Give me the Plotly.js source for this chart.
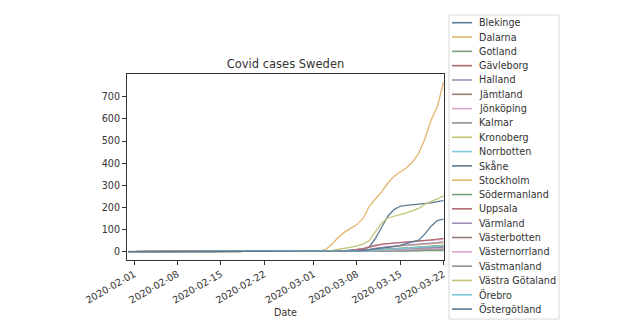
<!DOCTYPE html>
<html>
<head>
<meta charset="utf-8">
<script src="https://cdn.plot.ly/plotly-3.0.1.min.js"></script>
<style>html,body{margin:0;padding:0;background:#fff;}#chart{width:641px;height:333px;}</style>
</head>
<body>
<div id="chart"></div>
<script>
// Dates: 2020-01-31 .. 2020-03-22 (daily)
const dates = [
 "2020-01-31",
 "2020-02-01","2020-02-02","2020-02-03","2020-02-04","2020-02-05","2020-02-06","2020-02-07","2020-02-08","2020-02-09","2020-02-10",
 "2020-02-11","2020-02-12","2020-02-13","2020-02-14","2020-02-15","2020-02-16","2020-02-17","2020-02-18","2020-02-19","2020-02-20",
 "2020-02-21","2020-02-22","2020-02-23","2020-02-24","2020-02-25","2020-02-26","2020-02-27","2020-02-28","2020-02-29",
 "2020-03-01","2020-03-02","2020-03-03","2020-03-04","2020-03-05","2020-03-06","2020-03-07","2020-03-08","2020-03-09","2020-03-10",
 "2020-03-11","2020-03-12","2020-03-13","2020-03-14","2020-03-15","2020-03-16","2020-03-17","2020-03-18","2020-03-19","2020-03-20",
 "2020-03-21","2020-03-22"
];

// Jan 31 + February (30 values), then March 1..22 (22 values)
const blekinge       = [0,0,0,0,0,0,0,0,0,0, 0,0,0,0,0,0,0,0,0,0, 0,0,0,0,0,0,0,0,0,0,  0,0,0,0,0,0,0,0,0,0,1,1,2,2,3,3,4,4,5,5,6,7];
const dalarna        = [0,0,0,0,0,0,0,0,0,0, 0,0,0,0,0,0,0,0,0,0, 0,0,0,0,0,0,0,0,0,0,  0,0,0,0,1,2,3,4,6,10,14,18,21,24,26,28,30,32,34,36,38,40];
const gotland        = [0,0,0,0,0,0,0,0,0,0, 0,0,0,0,0,0,0,0,0,0, 0,0,0,0,0,0,0,0,0,0,  0,0,0,0,0,0,0,0,0,0,0,1,1,2,2,3,3,3,4,4,5,5];
const gavleborg      = [0,0,0,0,0,0,0,0,0,0, 0,0,0,0,0,0,0,0,0,0, 0,0,0,0,0,0,0,0,0,0,  0,0,0,0,0,0,1,2,3,4,5,6,7,8,10,11,12,14,15,17,18,20];
const halland        = [0,0,0,0,0,0,0,0,0,0, 0,0,0,0,0,0,0,0,0,0, 0,0,0,0,0,0,0,0,0,0,  0,0,0,0,1,2,3,4,6,10,15,20,22,25,27,30,32,34,36,38,41,45];
const jamtland       = [0,0,0,0,0,0,0,0,0,0, 0,0,0,0,0,0,0,0,0,0, 0,0,0,0,0,0,0,0,0,0,  0,0,0,0,0,0,0,1,1,2,3,4,5,6,7,8,9,10,11,12,13,14];
const jonkoping      = [1,1,1,1,1,1,1,1,1,1, 1,1,1,1,1,1,1,1,1,1, 1,1,1,1,1,1,1,1,1,1,  1,1,1,1,2,3,5,8,14,22,30,34,36,38,40,42,44,46,48,50,52,55];
const kalmar         = [0,0,0,0,0,0,0,0,0,0, 0,0,0,0,0,0,0,0,0,0, 0,0,0,0,0,0,0,0,0,0,  0,0,0,0,0,0,0,1,1,2,3,4,5,6,7,8,9,10,11,12,13,14];
const kronoberg      = [0,0,0,0,0,0,0,0,0,0, 0,0,0,0,0,0,0,0,0,0, 0,0,0,0,0,0,0,0,0,0,  0,0,0,0,0,0,1,1,2,4,6,8,10,12,14,16,18,20,22,24,26,28];
const norrbotten     = [0,0,0,0,0,0,0,0,0,0, 0,0,0,0,0,0,0,0,0,0, 0,0,0,0,0,0,0,0,0,0,  0,0,0,0,0,0,0,0,1,2,3,4,5,6,7,8,9,10,11,12,13,14];
const skane          = [0,0,0,0,0,0,0,0,0,0, 0,0,0,0,0,0,0,0,0,0, 0,0,0,0,0,0,0,0,0,0,  0,0,1,1,2,4,6,8,12,20,60,110,160,190,205,209,212,214,216,220,226,230];
const stockholm      = [0,0,0,0,0,0,0,0,0,0, 0,0,0,0,0,0,0,0,0,0, 0,0,0,0,0,0,0,1,1,1,  1,2,10,35,65,88,105,122,150,205,238,270,310,340,360,378,405,445,510,595,655,765];
const sodermanland   = [0,0,0,0,0,0,0,0,0,0, 0,0,0,0,0,0,0,0,0,0, 0,0,0,0,0,0,0,0,0,0,  0,0,0,0,0,1,2,3,4,6,8,10,12,14,15,17,19,20,22,24,26,28];
const uppsala        = [0,0,0,0,0,0,0,0,0,0, 0,0,0,0,0,0,0,0,0,0, 0,0,0,0,0,0,0,0,0,0,  0,0,0,1,2,3,5,8,12,20,28,33,36,38,40,42,45,47,50,53,56,60];
const varmland       = [0,0,0,0,0,0,0,0,0,0, 0,0,0,0,0,0,0,0,0,0, 0,0,0,0,0,0,0,0,0,0,  0,0,0,0,0,1,1,2,3,4,6,8,10,12,14,15,17,18,20,22,23,25];
const vasterbotten   = [0,0,0,0,0,0,0,0,0,0, 0,0,0,0,0,0,0,0,0,0, 0,0,0,0,0,0,0,0,0,0,  0,0,0,0,0,0,0,0,1,1,2,3,4,5,6,7,8,9,10,11,12,13];
const vasternorrland = [0,0,0,0,0,0,0,0,0,0, 0,0,0,0,0,0,0,0,0,0, 0,0,0,0,0,0,0,0,0,0,  0,0,0,0,0,0,1,1,2,3,4,5,6,7,8,9,10,11,12,13,14,15];
const vastmanland    = [0,0,0,0,0,0,0,0,0,0, 0,0,0,0,0,0,0,0,0,0, 0,0,0,0,0,0,0,0,0,0,  0,0,0,0,0,1,1,2,3,5,7,9,10,11,12,13,14,15,16,17,18,20];
const vastraGotaland = [0,0,0,0,0,0,0,0,0,0, 0,0,0,0,0,0,0,0,0,0, 0,0,0,0,0,0,1,1,1,1,  1,1,2,5,10,15,20,25,35,50,90,130,152,160,165,175,185,195,215,225,238,253];
const orebro         = [0,0,0,0,0,0,0,0,0,0, 0,0,0,0,0,0,0,0,0,0, 0,0,0,0,0,0,0,0,0,0,  0,0,0,0,0,1,1,2,3,4,5,7,9,11,13,15,17,19,21,23,25,27];
const ostergotland   = [0,0,0,0,0,0,0,0,0,0, 0,0,0,0,0,0,0,0,0,0, 0,0,0,0,0,0,0,0,0,0,  0,0,0,0,1,1,2,3,5,8,12,15,18,22,28,35,42,52,80,115,140,147];

const names = ["Blekinge","Dalarna","Gotland","Gävleborg","Halland","Jämtland","Jönköping","Kalmar","Kronoberg","Norrbotten","Skåne","Stockholm","Södermanland","Uppsala","Värmland","Västerbotten","Västernorrland","Västmanland","Västra Götaland","Örebro","Östergötland"];
const series = [blekinge,dalarna,gotland,gavleborg,halland,jamtland,jonkoping,kalmar,kronoberg,norrbotten,skane,stockholm,sodermanland,uppsala,varmland,vasterbotten,vasternorrland,vastmanland,vastraGotaland,orebro,ostergotland];

// faded matplotlib tab10 cycle
const palette = ["#5a7a94","#e2b56a","#78a078","#b06a70","#a090b8","#9a7e78","#d9a6cf","#909090","#c4c478","#7cc8d8"];

const yTicks = [0,100,200,300,400,500,600,700];
const xTicks = ["2020-02-01","2020-02-08","2020-02-15","2020-02-22","2020-03-01","2020-03-08","2020-03-15","2020-03-22"];

const W = 641, H = 333;
const plotL = 127, plotR = 444, plotT = 74, plotB = 260;
const pxX = x => (x - plotL) / (plotR - plotL);
const pxY = y => (plotB - y) / (plotB - plotT);

const FONT = "DejaVu Sans, Verdana, sans-serif";
const TXT = "#333333";

const traces = series.map((s, i) => ({
  type: "scatter", mode: "lines", name: names[i],
  x: dates, y: s,
  line: {color: palette[i % palette.length], width: 1.3},
  showlegend: false, hoverinfo: "skip"
}));

// manual legend (matplotlib-style compact spacing)
const shapes = [{
  type: "rect", xref: "paper", yref: "paper",
  x0: pxX(449), x1: pxX(559), y0: pxY(319), y1: pxY(15),
  line: {color: "#d8d8d8", width: 1}, fillcolor: "rgba(255,255,255,0.8)", layer: "above"
}];
const annotations = [];
names.forEach((n, i) => {
  const yc = 22.7 + i * 14.32;
  shapes.push({type: "line", xref: "paper", yref: "paper",
    x0: pxX(452), x1: pxX(472), y0: pxY(yc), y1: pxY(yc),
    line: {color: palette[i % palette.length], width: 1.6}, layer: "above"});
  annotations.push({xref: "paper", yref: "paper", x: pxX(478), y: pxY(yc),
    xanchor: "left", yanchor: "middle", text: n, showarrow: false,
    font: {family: FONT, size: 9.6, color: TXT}, borderpad: 0});
});

const layout = {
  width: W, height: H,
  paper_bgcolor: "#ffffff", plot_bgcolor: "#ffffff",
  margin: {l: plotL, r: W - plotR, t: plotT, b: H - plotB, pad: 0},
  font: {family: FONT, size: 9.6, color: TXT},
  title: {text: "Covid cases Sweden", font: {family: FONT, size: 11.5, color: TXT},
          x: pxX(285.5), xref: "paper", xanchor: "center", y: 1 - 64 / H, yref: "container", yanchor: "middle"},
  xaxis: {
    type: "date", range: ["2020-01-30 20:00", "2020-03-22 02:00"],
    tickvals: xTicks, ticktext: xTicks, tickangle: -30,
    ticks: "outside", ticklen: 4, tickcolor: "#333", tickfont: {family: FONT, size: 9.6, color: TXT},
    showgrid: false, zeroline: false, showline: true, mirror: true, linecolor: "#333", linewidth: 1,
    title: {text: "Date", font: {family: FONT, size: 9.6, color: TXT}, standoff: 4}
  },
  yaxis: {
    range: [-38, 803], tickvals: yTicks,
    ticks: "outside", ticklen: 4, tickcolor: "#333", tickfont: {family: FONT, size: 9.6, color: TXT},
    showgrid: false, zeroline: false, showline: true, mirror: true, linecolor: "#333", linewidth: 1
  },
  shapes: shapes, annotations: annotations, showlegend: false
};

Plotly.newPlot("chart", traces, layout, {displayModeBar: false, staticPlot: true});
</script>
</body>
</html>
